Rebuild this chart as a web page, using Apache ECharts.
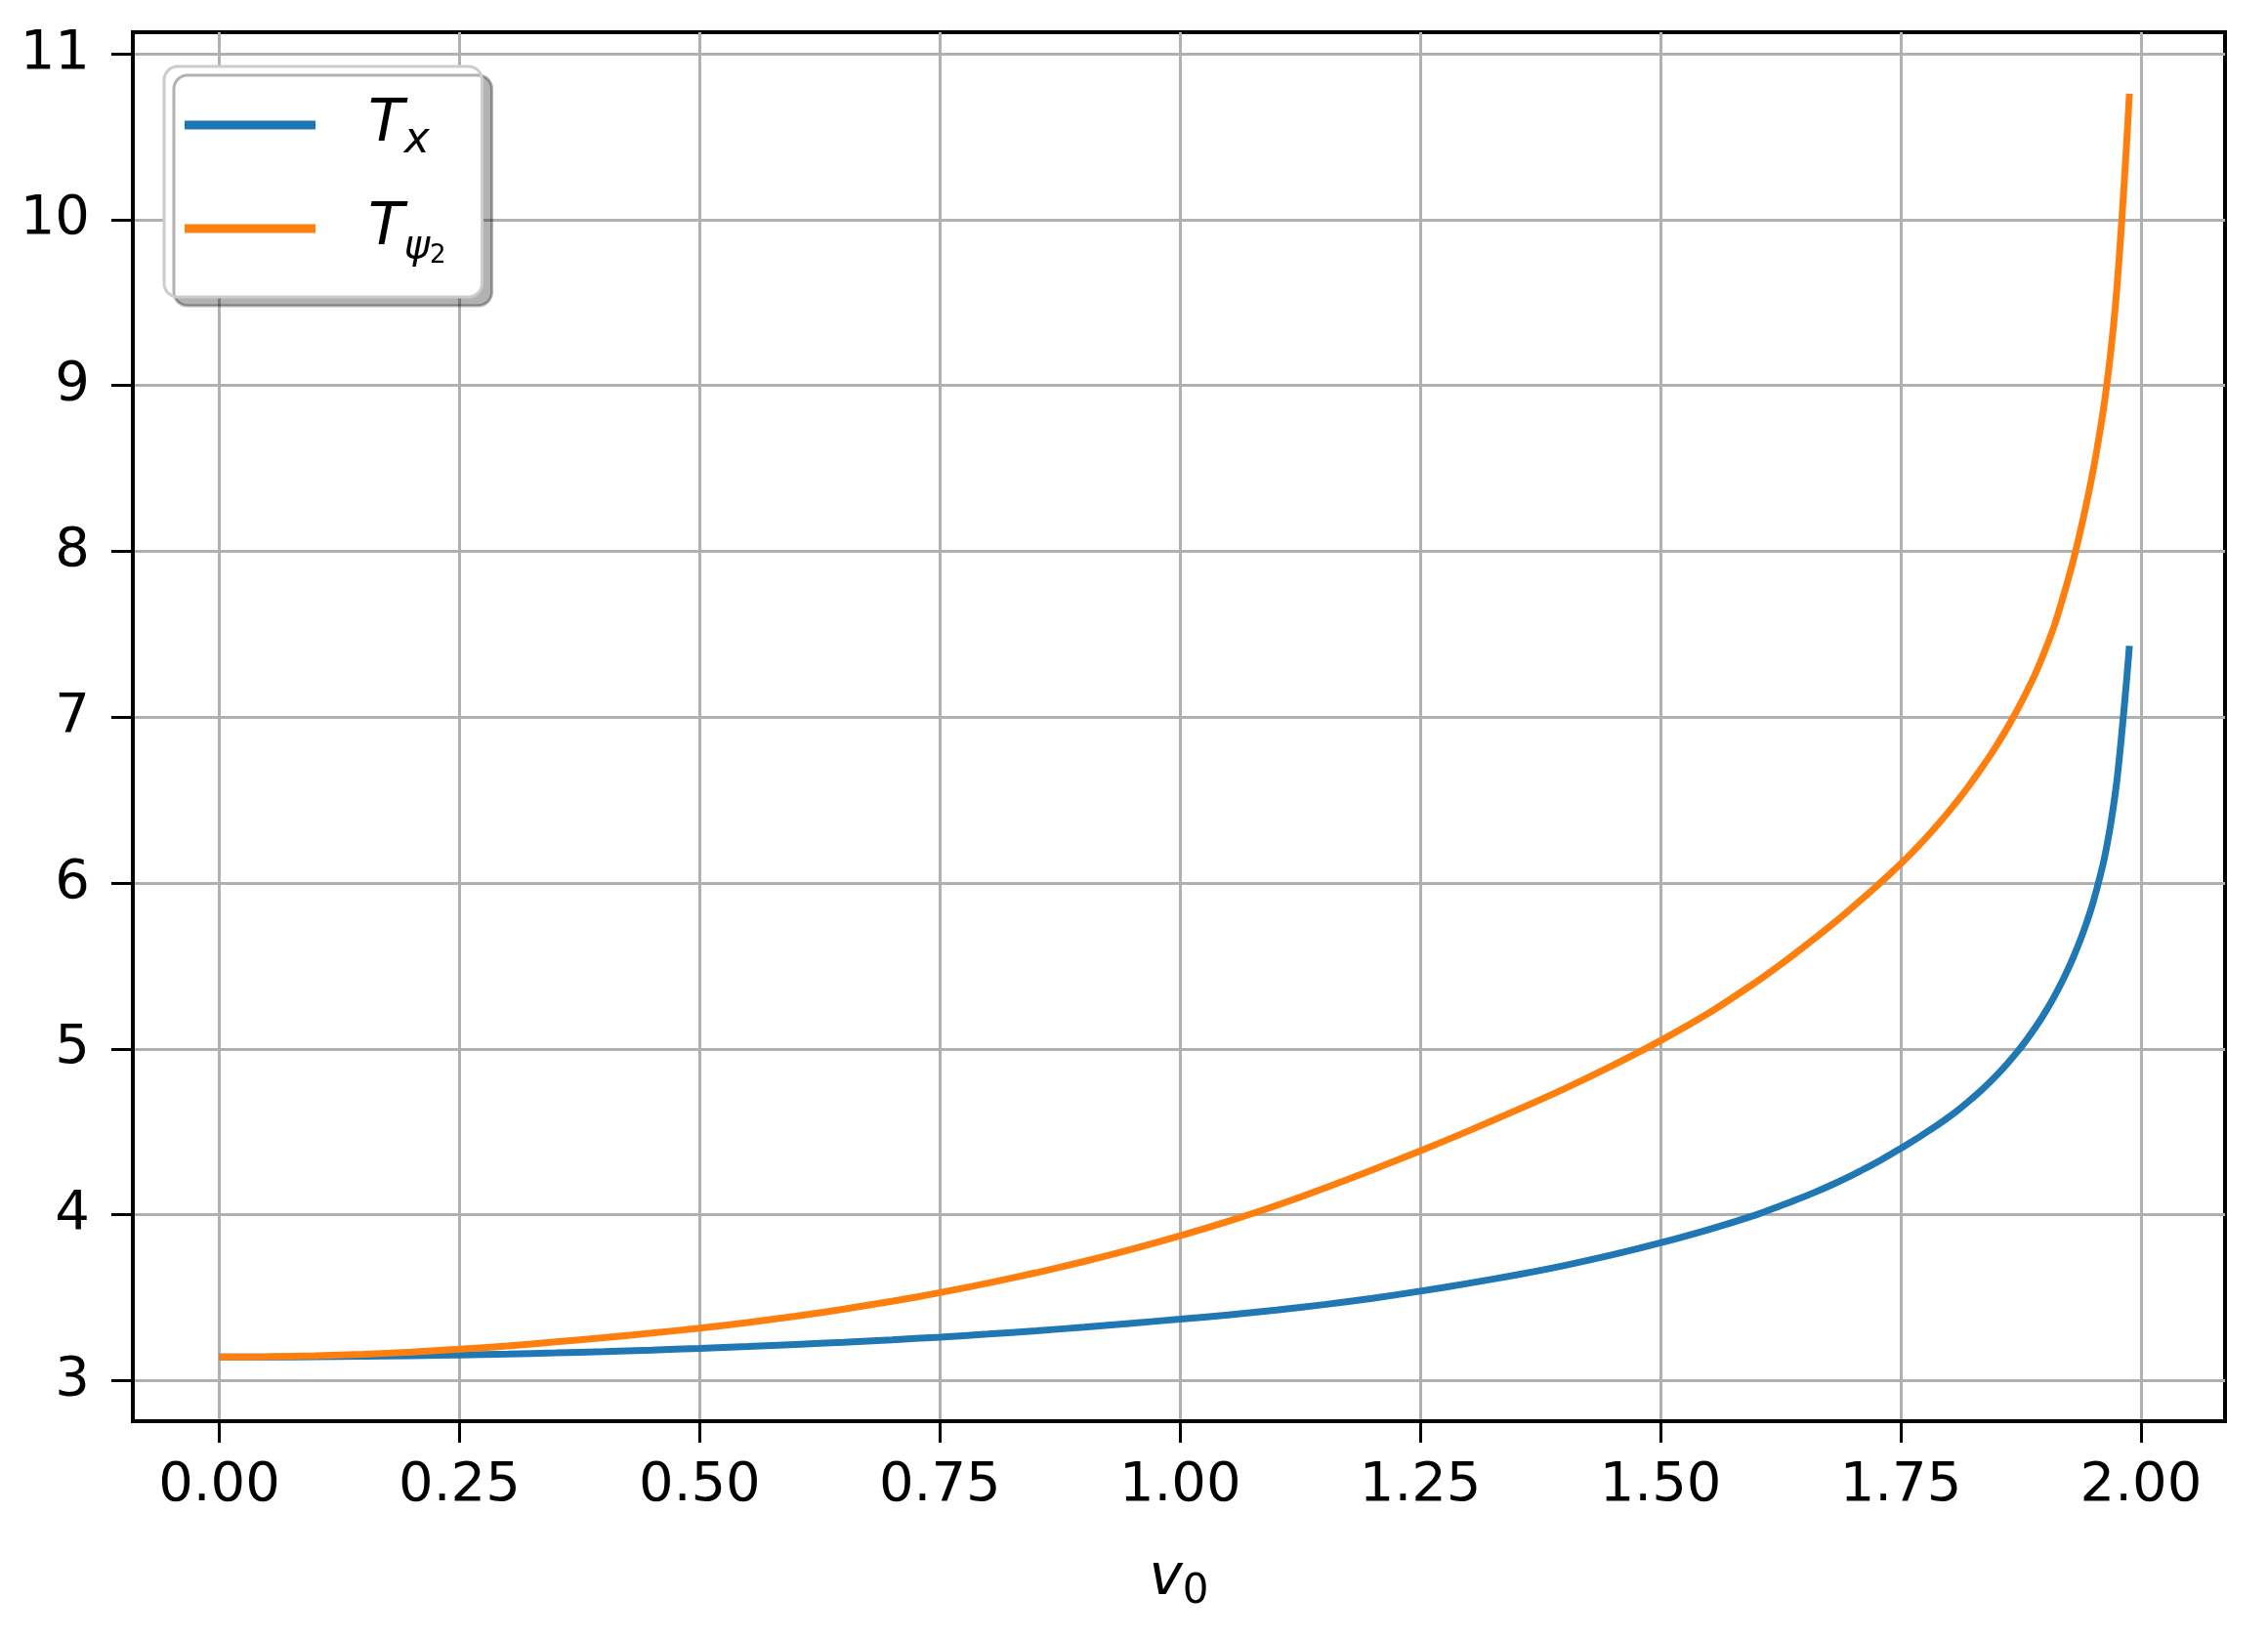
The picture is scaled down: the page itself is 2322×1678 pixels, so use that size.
<!DOCTYPE html>
<html>
<head>
<meta charset="utf-8">
<title>T vs v0</title>
<script src="https://cdn.jsdelivr.net/npm/echarts@6/dist/echarts.min.js"></script>
<style>
  html, body { margin: 0; padding: 0; background: #fff; }
  #chart { width: 2322px; height: 1678px; }
</style>
</head>
<body>
<div id="chart"></div>
<script>
// values
const v0Values = [0.00, 0.05, 0.10, 0.15, 0.20, 0.25, 0.30, 0.35, 0.40, 0.45,
  0.50, 0.55, 0.60, 0.65, 0.70, 0.75, 0.80, 0.85, 0.90, 0.95,
  1.00, 1.05, 1.10, 1.15, 1.20, 1.25, 1.30, 1.35, 1.40, 1.45,
  1.50, 1.55, 1.60, 1.62, 1.64, 1.66, 1.68, 1.70, 1.71, 1.72,
  1.73, 1.74, 1.75, 1.76, 1.77, 1.78, 1.79, 1.80, 1.81, 1.82,
  1.83, 1.84, 1.85, 1.86, 1.87, 1.88, 1.89, 1.90, 1.91, 1.92,
  1.93, 1.94, 1.95, 1.96, 1.965, 1.97, 1.975, 1.98, 1.985, 1.988];
const txValues = [3.142, 3.142, 3.144, 3.146, 3.150, 3.154, 3.160, 3.167, 3.175, 3.184,
  3.194, 3.205, 3.218, 3.231, 3.246, 3.262, 3.280, 3.300, 3.322, 3.346,
  3.370, 3.396, 3.425, 3.458, 3.496, 3.539, 3.586, 3.637, 3.694, 3.758,
  3.830, 3.910, 4.000, 4.043, 4.087, 4.134, 4.185, 4.240, 4.270, 4.300,
  4.332, 4.366, 4.400, 4.435, 4.471, 4.509, 4.548, 4.589, 4.633, 4.680,
  4.730, 4.784, 4.842, 4.905, 4.973, 5.047, 5.128, 5.218, 5.318, 5.430,
  5.558, 5.705, 5.880, 6.100, 6.240, 6.410, 6.620, 6.900, 7.220, 7.430];
const tpsiValues = [3.142, 3.144, 3.150, 3.159, 3.172, 3.189, 3.209, 3.233, 3.259, 3.286,
  3.316, 3.350, 3.388, 3.431, 3.478, 3.530, 3.588, 3.650, 3.718, 3.792,
  3.873, 3.960, 4.055, 4.160, 4.270, 4.385, 4.505, 4.630, 4.760, 4.900,
  5.050, 5.215, 5.405, 5.488, 5.574, 5.664, 5.757, 5.855, 5.905, 5.956,
  6.008, 6.061, 6.116, 6.173, 6.233, 6.296, 6.362, 6.431, 6.503, 6.579,
  6.659, 6.743, 6.832, 6.927, 7.030, 7.141, 7.261, 7.400, 7.555, 7.745,
  7.955, 8.200, 8.480, 8.820, 9.030, 9.280, 9.590, 9.990, 10.450, 10.760];
const xTicks = [0, 0.25, 0.5, 0.75, 1.0, 1.25, 1.5, 1.75, 2.0];
const yTicks = [3, 4, 5, 6, 7, 8, 9, 10, 11];

const font = 'DejaVu Sans';

function pairs(ys) {
  return v0Values.map((x, i) => [x, ys[i]]);
}

const chart = echarts.init(document.getElementById('chart'), null, { renderer: 'canvas' });

chart.setOption({
  backgroundColor: '#ffffff',
  animation: false,
  grid: {
    left: 136,
    right: 44,
    top: 33,
    bottom: 223,
    show: true,
    borderColor: '#000',
    borderWidth: 4,
    backgroundColor: 'transparent'
  },
  legend: {
    orient: 'vertical',
    left: 168,
    top: 68,
    padding: [21, 37, 29, 21],
    icon: 'rect',
    itemWidth: 134,
    itemHeight: 9,
    itemGap: 26,
    backgroundColor: '#fff',
    borderColor: '#cccccc',
    borderWidth: 3,
    borderRadius: 14,
    shadowColor: 'rgba(0,0,0,0.3)',
    shadowBlur: 0,
    shadowOffsetX: 10,
    shadowOffsetY: 9,
    data: ['Tx', 'Tpsi'],
    formatter: function (name) {
      return name === 'Tx' ? '{t|T}{s|x}' : '{t|T}{p|ψ}{q|2}';
    },
    textStyle: {
      fontFamily: font,
      color: '#000',
      rich: {
        t: { fontFamily: font, fontStyle: 'italic', fontSize: 60, lineHeight: 60, padding: [0, 0, 0, 49], color: '#000' },
        s: { fontFamily: font, fontStyle: 'italic', fontSize: 44, lineHeight: 44, padding: [34, 0, 0, 0], color: '#000' },
        p: { fontFamily: font, fontStyle: 'italic', fontSize: 40, lineHeight: 40, padding: [40, 0, 0, 0], color: '#000' },
        q: { fontFamily: font, fontSize: 26, lineHeight: 26, padding: [56, 0, 0, 0], color: '#000' }
      }
    }
  },
  xAxis: {
    type: 'value',
    min: -0.09,
    max: 2.0875,
    name: '{v|v}{z|0}',
    nameLocation: 'middle',
    nameGap: 128,
    nameTextStyle: {
      rich: {
        v: { fontFamily: font, fontStyle: 'italic', fontSize: 58, color: '#000' },
        z: { fontFamily: font, fontSize: 42, padding: [26, 0, 0, 0], color: '#000' }
      }
    },
    axisLine: { show: true, onZero: false, lineStyle: { color: '#000', width: 4 } },
    axisTick: { show: true, length: 22, customValues: xTicks, lineStyle: { color: '#000', width: 3 } },
    axisLabel: {
      customValues: xTicks,
      margin: 38,
      fontFamily: font,
      fontSize: 56,
      color: '#000',
      formatter: v => v.toFixed(2)
    },
    splitLine: { show: true, lineStyle: { color: '#b0b0b0', width: 3 } }
  },
  yAxis: {
    type: 'value',
    min: 2.755,
    max: 11.13,
    axisLine: { show: true, onZero: false, lineStyle: { color: '#000', width: 4 } },
    axisTick: { show: true, length: 22, customValues: yTicks, lineStyle: { color: '#000', width: 3 } },
    axisLabel: {
      customValues: yTicks,
      margin: 44,
      fontFamily: font,
      fontSize: 56,
      color: '#000',
      formatter: v => String(v)
    },
    splitLine: { show: true, lineStyle: { color: '#b0b0b0', width: 3 } }
  },
  series: [
    {
      name: 'Tx',
      type: 'line',
      data: pairs(txValues),
      showSymbol: false,
      symbol: 'none',
      smooth: 0.3,
      lineStyle: { color: '#1f77b4', width: 7 },
      itemStyle: { color: '#1f77b4' },
      z: 3
    },
    {
      name: 'Tpsi',
      type: 'line',
      data: pairs(tpsiValues),
      showSymbol: false,
      symbol: 'none',
      smooth: 0.3,
      lineStyle: { color: '#ff7f0e', width: 7 },
      itemStyle: { color: '#ff7f0e' },
      z: 4
    }
  ]
});
</script>
</body>
</html>
